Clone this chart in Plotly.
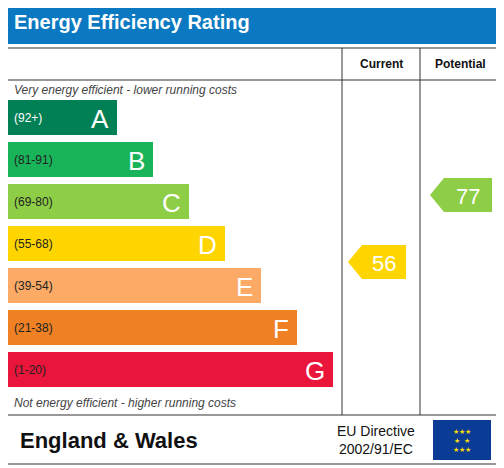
import plotly.graph_objects as go

bands = ["A", "B", "C", "D", "E", "F", "G"]
ranges = ["(92+)", "(81-91)", "(69-80)", "(55-68)", "(39-54)", "(21-38)", "(1-20)"]
lows = [92, 81, 69, 55, 39, 21, 1]
colors = ["#008054", "#19b459", "#8dce46", "#ffd500", "#fcaa65", "#ef8023", "#e9153b"]
current = 56
potential = 77

# layout in pixel units (page has an 8px body margin, so the axes are shifted by 8)
row_top, row_h, gap = 100, 35, 7
ys = [row_top + row_h / 2 + i * (row_h + gap) for i in range(7)]
widths = [110 + 36 * i for i in range(7)]

def band_of(v):
    for i, lo in enumerate(lows):
        if v >= lo:
            return i
    return 6

fig = go.Figure()
fig.add_trace(go.Bar(y=ys, x=widths, base=7, orientation="h", width=row_h,
                     marker=dict(color=colors, line=dict(width=0)), hoverinfo="skip"))

for i in range(7):
    fig.add_annotation(x=12, y=ys[i], text=ranges[i], showarrow=False, xanchor="left",
                       font=dict(size=12, color="white" if i == 0 else "#222", family="Arial"))
    fig.add_annotation(x=7 + widths[i] - 6, y=ys[i] + 1, text=bands[i], showarrow=False, xanchor="right",
                       font=dict(size=26, color="white", family="Arial"))

def arrow(x0, x1, yc, col, val):
    h = 17
    xs = [x0, x0 + 14, x1, x1, x0 + 14, x0]
    yy = [yc, yc - h, yc - h, yc + h, yc + h, yc]
    fig.add_trace(go.Scatter(x=xs, y=yy, fill="toself", fillcolor=col, mode="lines",
                             line=dict(width=0), hoverinfo="skip"))
    fig.add_annotation(x=(x0 + 14 + x1) / 2, y=yc + 1, text=str(val), showarrow=False,
                       font=dict(size=22, color="white", family="Arial"))

arrow(348, 406, 262, colors[band_of(current)], current)
arrow(430, 492, 195, colors[band_of(potential)], potential)

ln = dict(color="#333", width=1)
shapes = [
    dict(type="rect", x0=0, x1=504, y0=0, y1=44, fillcolor="#0b79c1", line=dict(width=0)),
    dict(type="rect", x0=4, x1=500, y0=48, y1=464, line=ln),
    dict(type="line", x0=4, x1=500, y0=80, y1=80, line=ln),
    dict(type="line", x0=4, x1=500, y0=415, y1=415, line=ln),
    dict(type="line", x0=342, x1=342, y0=48, y1=415, line=ln),
    dict(type="line", x0=420, x1=420, y0=48, y1=415, line=ln),
    dict(type="rect", x0=433, x1=491, y0=420, y1=460, fillcolor="#0b3c95", line=dict(width=0)),
]
fig.update_layout(shapes=shapes)

anns = [
    (12, 22, "<b>Energy Efficiency Rating</b>", 20, "white", "left"),
    (381, 64, "<b>Current</b>", 12, "#111", "center"),
    (460, 64, "<b>Potential</b>", 12, "#111", "center"),
    (12, 90, "<i>Very energy efficient - lower running costs</i>", 12, "#444", "left"),
    (12, 403, "<i>Not energy efficient - higher running costs</i>", 12, "#444", "left"),
    (18, 440, "<b>England & Wales</b>", 22, "#111", "left"),
    (376, 440, "EU Directive<br>2002/91/EC", 14, "#111", "center"),
    (462, 440, "★★★<br>★  ★<br>★★★", 7, "#ffdd00", "center"),
]
for x, y, t, s, c, a in anns:
    fig.add_annotation(x=x, y=y, text=t, showarrow=False, xanchor=a,
                       font=dict(size=s, color=c, family="Arial"))

fig.update_layout(width=504, height=468, margin=dict(l=0, r=0, t=0, b=0),
                  plot_bgcolor="white", paper_bgcolor="white", showlegend=False,
                  xaxis=dict(range=[8, 512], visible=False, fixedrange=True),
                  yaxis=dict(range=[476, 8], visible=False, fixedrange=True))
fig.write_html("out.html")
